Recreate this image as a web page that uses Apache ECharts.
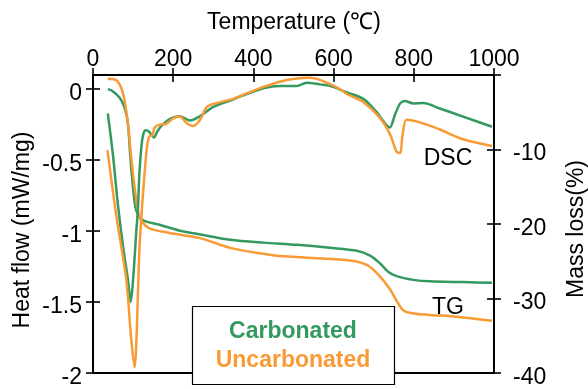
<!DOCTYPE html>
<html>
<head>
<meta charset="utf-8">
<script src="https://cdn.jsdelivr.net/npm/echarts@6/dist/echarts.min.js"></script>
<style>
  html, body { margin: 0; padding: 0; background: #fff; }
  #chart { width: 588px; height: 389px; }
</style>
</head>
<body>
<div id="chart"></div>
<script>
// temperature (°C) / heat flow (mW/mg)
const dscCarbonated = [
  [37, -0.17], [50, -0.47], [62, -0.81], [75, -1.11], [87, -1.34], [94, -1.50],
  [100, -1.34], [108, -1.0], [112, -0.85], [116, -0.58], [123, -0.35], [131, -0.29],
  [140, -0.30], [152, -0.34], [160, -0.30], [170, -0.26], [191, -0.21], [216, -0.19],
  [242, -0.22], [267, -0.19], [300, -0.125], [342, -0.08], [383, -0.034], [425, 0.007],
  [466, 0.023], [508, 0.023], [533, 0.046], [566, 0.034], [591, 0.023], [633, -0.023],
  [674, -0.068], [707, -0.16], [728, -0.24], [740, -0.27], [753, -0.18], [766, -0.10],
  [778, -0.084], [799, -0.10], [824, -0.098], [865, -0.136], [923, -0.193], [995, -0.265]
];
const dscUncarbonated = [
  [36, -0.43], [58, -0.89], [83, -1.34], [95, -1.75], [104, -1.96], [108, -1.79],
  [112, -1.45], [116, -1.11], [120, -0.93], [123, -0.80], [129, -0.58], [135, -0.40],
  [141, -0.33], [148, -0.325], [154, -0.27], [166, -0.25], [183, -0.244], [200, -0.205],
  [216, -0.193], [234, -0.24], [250, -0.26], [267, -0.216], [284, -0.125], [308, -0.098],
  [350, -0.068], [383, -0.029], [425, 0.016], [466, 0.053], [508, 0.075], [541, 0.08],
  [574, 0.057], [616, 0.0], [633, -0.034], [674, -0.091], [716, -0.205], [741, -0.32],
  [757, -0.44], [766, -0.45], [772, -0.32], [782, -0.216], [807, -0.227], [832, -0.25],
  [865, -0.284], [923, -0.353], [995, -0.40]
];
// temperature (°C) / mass loss (%)
const tgCarbonated = [
  [37, -1.9], [50, -2.2], [67, -3.1], [79, -4.4], [87, -6.5], [93, -10.9], [100, -15.2],
  [108, -18.2], [125, -19.5], [166, -20.1], [217, -20.9], [267, -21.4], [342, -22.1],
  [425, -22.5], [508, -22.8], [591, -23.2], [658, -23.6], [691, -24.25], [716, -25.3],
  [736, -26.4], [757, -27.0], [799, -27.5], [840, -27.7], [923, -27.8], [995, -27.9]
];
const tgUncarbonated = [
  [37, -0.5], [58, -0.7], [71, -1.8], [79, -3.5], [87, -6.5], [95, -10.9], [104, -15.2],
  [112, -18.2], [120, -19.5], [141, -20.6], [191, -21.2], [267, -21.9], [342, -23.2],
  [425, -24.0], [466, -24.3], [549, -24.55], [641, -24.9], [683, -25.5], [716, -27.05],
  [741, -28.8], [757, -30.3], [774, -31.6], [799, -32.0], [840, -32.2], [907, -32.45],
  [995, -33.0]
];
const tempTicks = [0, 200, 400, 600, 800, 1000];
const heatTicks = [0, -0.5, -1, -1.5, -2];
const massTicks = [0, -10, -20, -30, -40];
const massLabels = [-10, -20, -30, -40];

const GREEN = '#33995f';
const ORANGE = '#f99a35';
const FONT = 'Liberation Sans, Arial, sans-serif';
const chart = echarts.init(document.getElementById('chart'));

const tickLen = 7;
const plain = v => String(v);
// y labels sit a few px lower than the tick in the reference
const lowered = v => '{a|' + v + '}';
const lowRich = { a: { fontSize: 23, fontFamily: FONT, color: '#000', padding: [9, 0, 0, 0] } };

function yAx(side, min, max, ticks, labels, inside, main) {
  return {
    type: 'value', position: side, min: min, max: max,
    axisLine: { show: main, onZero: false, lineStyle: { color: '#000', width: 2 } },
    axisTick: { show: true, inside: inside, length: tickLen, customValues: ticks,
      lineStyle: { color: '#000', width: 1.6 } },
    axisLabel: { show: main, customValues: labels, color: '#000', fontSize: 23,
      fontFamily: FONT, formatter: lowered, rich: lowRich,
      margin: side === 'left' ? 11 : 19 },
    splitLine: { show: false }
  };
}
function xAx(inside, main) {
  return {
    type: 'value', position: 'top', min: 0, max: 1000, interval: 200,
    axisLine: { show: main, onZero: false, lineStyle: { color: '#000', width: 2 } },
    axisTick: { show: true, inside: inside, length: tickLen, customValues: tempTicks,
      lineStyle: { color: '#000', width: 1.6 } },
    axisLabel: { show: main, customValues: tempTicks, color: '#000', fontSize: 23,
      fontFamily: FONT, formatter: plain, margin: 4 },
    splitLine: { show: false }
  };
}
function line(data, color, yIdx) {
  return {
    type: 'line', data: data, xAxisIndex: 0, yAxisIndex: yIdx, showSymbol: false,
    smooth: 0.3, lineStyle: { color: color, width: 2.5 }, silent: true
  };
}

chart.setOption({
  animation: false,
  grid: { left: 93, right: 94, top: 75, bottom: 6, show: true, borderColor: '#000',
    borderWidth: 2, backgroundColor: 'transparent' },
  xAxis: [xAx(false, true), xAx(true, false)],
  yAxis: [
    yAx('left', -2, 0.1, heatTicks, heatTicks, false, true),
    yAx('left', -2, 0.1, heatTicks, heatTicks, true, false),
    yAx('right', -40, 0, massTicks, massLabels, false, true),
    yAx('right', -40, 0, massTicks, massLabels, true, false)
  ],
  series: [
    line(tgCarbonated, GREEN, 2),
    line(tgUncarbonated, ORANGE, 2),
    line(dscCarbonated, GREEN, 0),
    line(dscUncarbonated, ORANGE, 0)
  ],
  graphic: [
    { type: 'text', x: 294, y: 23, style: { text: 'Temperature (℃)', font: '23px ' + FONT,
      fill: '#000', align: 'center', verticalAlign: 'middle' } },
    { type: 'text', x: 23, y: 230, rotation: Math.PI / 2, style: { text: 'Heat flow (mW/mg)',
      font: '23px ' + FONT, fill: '#000', align: 'center', verticalAlign: 'middle' } },
    { type: 'text', x: 577, y: 229, rotation: Math.PI / 2, style: { text: 'Mass loss(%)',
      font: '23px ' + FONT, fill: '#000', align: 'center', verticalAlign: 'middle' } },
    { type: 'text', x: 448, y: 159, style: { text: 'DSC', font: '23px ' + FONT,
      fill: '#000', align: 'center', verticalAlign: 'middle' } },
    { type: 'text', x: 448, y: 308, style: { text: 'TG', font: '23px ' + FONT,
      fill: '#000', align: 'center', verticalAlign: 'middle' } },
    { type: 'rect', shape: { x: 192.5, y: 306.5, width: 202, height: 78 },
      style: { fill: '#fff', stroke: '#000', lineWidth: 1.2 }, z: 10 },
    { type: 'text', x: 293, y: 332, z: 11, style: { text: 'Carbonated',
      font: 'bold 23px ' + FONT, fill: GREEN, align: 'center', verticalAlign: 'middle' } },
    { type: 'text', x: 293, y: 361, z: 11, style: { text: 'Uncarbonated',
      font: 'bold 23px ' + FONT, fill: ORANGE, align: 'center', verticalAlign: 'middle' } }
  ]
});
</script>
</body>
</html>
